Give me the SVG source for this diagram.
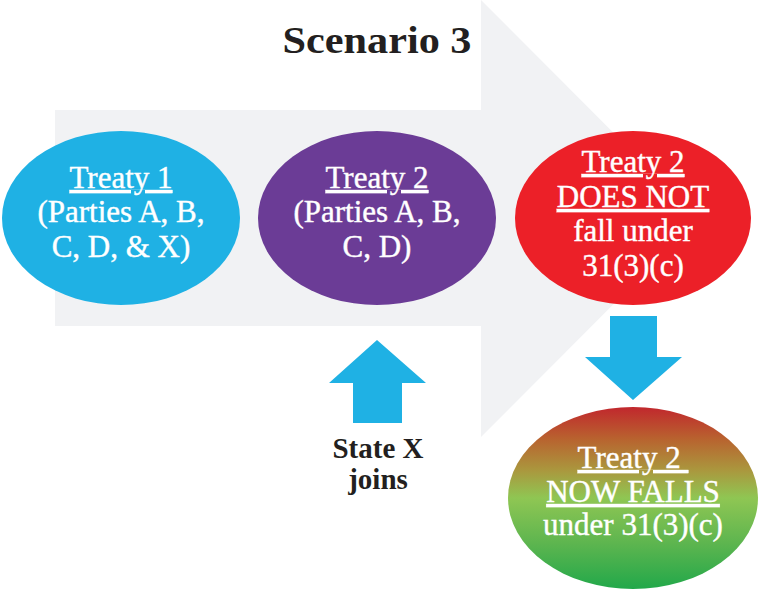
<svg xmlns="http://www.w3.org/2000/svg" width="759" height="593" viewBox="0 0 759 593">
  <style>
    .lbl { font-family: "Liberation Serif", "DejaVu Serif", serif; font-weight: 400; font-size: 31px; fill: #ffffff; stroke: #ffffff; stroke-width: 0.4px; text-anchor: middle; }
    .u { text-decoration: underline; text-decoration-thickness: 2px; }
    .dark { font-family: "Liberation Serif", "DejaVu Serif", serif; font-weight: bold; fill: #231f20; text-anchor: middle; }
    .blue { fill: #1fb1e4; }
  </style>
  <defs>
    <linearGradient id="rg" x1="0" y1="0" x2="0" y2="1">
      <stop offset="0" stop-color="#c1272d"/>
      <stop offset="0.18" stop-color="#b8642f"/>
      <stop offset="0.35" stop-color="#aa983e"/>
      <stop offset="0.5" stop-color="#8fc653"/>
      <stop offset="0.75" stop-color="#5db54f"/>
      <stop offset="1" stop-color="#22a84a"/>
    </linearGradient>
  </defs>
  <rect width="759" height="593" fill="#ffffff"/>
  <g id="background-arrow">
    <polygon points="55,110 481,110 481,0 699,218.5 481,437 481,326 55,326" fill="#f1f2f4"/>
  </g>
  <g id="title">
    <text class="dark" x="377" y="53" font-size="38" textLength="189" lengthAdjust="spacingAndGlyphs">Scenario 3</text>
  </g>
  <g id="connectors">
    <polygon class="blue" points="377,340 426,383 402,383 402,423 353,423 353,383 329,383"/>
    <polygon class="blue" points="610,316 657,316 657,357 682,357 633,400 585,357 610,357"/>
  </g>
  <g id="treaty1">
    <ellipse cx="121" cy="218" rx="119" ry="87" fill="#1fb1e4"/>
    <text class="lbl u" x="121" y="188">Treaty 1</text>
    <text class="lbl" x="121" y="222">(Parties A, B,</text>
    <text class="lbl" x="121" y="257">C, D, &amp; X)</text>
  </g>
  <g id="treaty2">
    <ellipse cx="377" cy="218" rx="119" ry="87" fill="#6b3c96"/>
    <text class="lbl u" x="377" y="188">Treaty 2</text>
    <text class="lbl" x="377" y="222">(Parties A, B,</text>
    <text class="lbl" x="377" y="257">C, D)</text>
  </g>
  <g id="not-falls">
    <ellipse cx="633" cy="218" rx="118" ry="87" fill="#ec2028"/>
    <text class="lbl u" x="633" y="172">Treaty 2</text>
    <text class="lbl u" x="633" y="207">DOES NOT</text>
    <text class="lbl" x="633" y="241">fall under</text>
    <text class="lbl" x="633" y="276">31(3)(c)</text>
  </g>
  <g id="now-falls">
    <ellipse cx="633" cy="498" rx="125" ry="91" fill="url(#rg)"/>
    <text class="lbl u" x="633" y="468" xml:space="preserve">Treaty 2 </text>
    <text class="lbl u" x="633" y="502">NOW FALLS</text>
    <text class="lbl" x="633" y="535">under 31(3)(c)</text>
  </g>
  <g id="state-x">
    <text class="dark" x="378" y="458" font-size="29">State X</text>
    <text class="dark" x="378" y="489" font-size="29">joins</text>
  </g>
</svg>
